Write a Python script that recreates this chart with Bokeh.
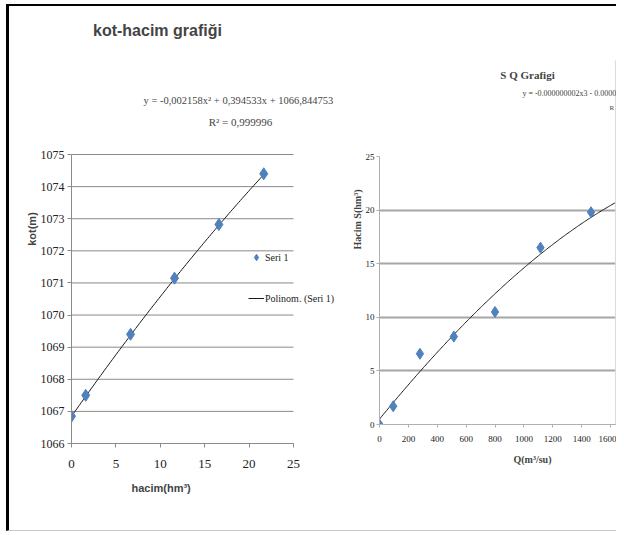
from bokeh.plotting import figure
from bokeh.models import FixedTicker, Label, Legend, LegendItem, Range1d, Title
from bokeh.layouts import row
from bokeh.embed import file_html
from bokeh.resources import INLINE
import numpy as np

# ---- left chart: kot-hacim ----
hacim = [0.0, 1.6, 6.65, 11.6, 16.6, 21.65]
kot = [1066.85, 1067.5, 1069.4, 1071.15, 1072.82, 1074.4]
kot_coef = [-0.002158, 0.394533, 1066.844753]
kot_ticks = [1066, 1067, 1068, 1069, 1070, 1071, 1072, 1073, 1074, 1075]
hacim_ticks = [0, 5, 10, 15, 20, 25]

# ---- right chart: S-Q ----
Q = [0, 95, 280, 515, 800, 1115, 1465]
S = [0.0, 1.7, 6.6, 8.2, 10.5, 16.5, 19.8]
S_trend_coef = [-2.5e-10, -2.1e-6, 0.01646, 0.5]
Q_ticks = [0, 200, 400, 600, 800, 1000, 1200, 1400, 1600]
S_ticks = [0, 5, 10, 15, 20, 25]

SERIF = "Liberation Serif"
SANS = "Liberation Sans"
BLUE = "#4f81bd"

# ================= left figure =================
p1 = figure(frame_width=272, frame_height=429, x_range=Range1d(0, 30.63), y_range=Range1d(1066, 1079.36),
            min_border_left=62, min_border_right=2, min_border_top=8, min_border_bottom=87,
            output_backend="svg", toolbar_location=None)
p1.outline_line_color = None
p1.grid.visible = False
for ax in (p1.xaxis[0], p1.yaxis[0]):
    ax.axis_line_color = "#8a8a8a"
    ax.major_tick_line_color = "#8a8a8a"
    ax.minor_tick_line_color = None
    ax.major_tick_in = 0
    ax.major_tick_out = 4
    ax.major_label_text_font = SERIF
    ax.major_label_text_color = "#222222"
p1.xaxis.major_label_text_font_size = "13px"
p1.yaxis.major_label_text_font_size = "12px"
p1.xaxis.ticker = FixedTicker(ticks=hacim_ticks)
p1.yaxis.ticker = FixedTicker(ticks=kot_ticks)
p1.xaxis.bounds = (hacim_ticks[0], hacim_ticks[-1])
p1.yaxis.bounds = (kot_ticks[0], kot_ticks[-1])
p1.xaxis.major_label_standoff = 12
p1.yaxis.major_label_standoff = 3
p1.yaxis.axis_label = "kot(m)"
p1.yaxis.axis_label_text_font = SANS
p1.yaxis.axis_label_text_font_style = "bold"
p1.yaxis.axis_label_text_font_size = "11px"
p1.yaxis.axis_label_standoff = 0

p1.add_layout(Title(text="hacim(hm³)", align="left", offset=60, standoff=18,
                    text_font=SANS, text_font_style="bold", text_font_size="11px"), "below")

# horizontal gridlines limited to the axis span
p1.segment(x0=hacim_ticks[0], x1=hacim_ticks[-1], y0=kot_ticks, y1=kot_ticks,
           line_color="#8a8a8a", line_width=1)

xs = np.linspace(0, max(hacim), 100)
trend1 = p1.line(xs, np.polyval(kot_coef, xs), line_color="#1a1a1a", line_width=1)
pts1 = p1.scatter(hacim, kot, marker="diamond", size=12, fill_color=BLUE, line_color=BLUE)

leg = Legend(items=[LegendItem(label="Seri 1", renderers=[pts1]),
                    LegendItem(label="Polinom. (Seri 1)", renderers=[trend1])],
             location=(177, 135), background_fill_alpha=0, border_line_color=None,
             padding=0, margin=0, spacing=21, glyph_width=16, glyph_height=20,
             label_height=20, label_standoff=1, label_text_font=SERIF,
             label_text_font_size="10px", label_text_color="#222222")
p1.add_layout(leg)

p1.add_layout(Label(x=9.68, y=1078.86, text="kot-hacim grafiği", text_font=SANS,
                    text_font_style="bold", text_font_size="16px", text_align="center",
                    text_baseline="middle"))
p1.add_layout(Label(x=18.8, y=1076.68, text="y = -0,002158x² + 0,394533x + 1066,844753",
                    text_font=SERIF, text_font_size="10.5px", text_align="center",
                    text_baseline="middle"))
p1.add_layout(Label(x=19.03, y=1076.0, text="R² = 0,999996", text_font=SERIF,
                    text_font_size="11px", text_align="center", text_baseline="middle"))

# ================= right figure =================
p2 = figure(frame_width=237, frame_height=410, x_range=Range1d(0, 1641.5), y_range=Range1d(0, 38.25),
            min_border_left=34, min_border_right=0, min_border_top=8, min_border_bottom=87,
            output_backend="svg", toolbar_location=None)
p2.outline_line_color = None
p2.xgrid.visible = False
p2.ygrid.ticker = FixedTicker(ticks=S_ticks[1:-1])
p2.ygrid.grid_line_color = "#a6a6a6"
p2.ygrid.grid_line_width = 2
for ax in (p2.xaxis[0], p2.yaxis[0]):
    ax.axis_line_color = "#b0b0b0"
    ax.major_tick_line_color = "#b0b0b0"
    ax.minor_tick_line_color = None
    ax.major_tick_in = 0
    ax.major_tick_out = 3
    ax.major_label_text_font = SERIF
    ax.major_label_text_font_size = "9px"
    ax.major_label_text_color = "#222222"
p2.xaxis.ticker = FixedTicker(ticks=Q_ticks)
p2.yaxis.ticker = FixedTicker(ticks=S_ticks)
p2.yaxis.bounds = (S_ticks[0], S_ticks[-1])
p2.xaxis.major_label_standoff = 8
p2.yaxis.major_label_standoff = 2
p2.yaxis.axis_label = "Hacim S(hm³)"
p2.yaxis.axis_label_text_font = SERIF
p2.yaxis.axis_label_text_font_style = "bold"
p2.yaxis.axis_label_text_font_size = "10px"
p2.yaxis.axis_label_standoff = 0

p2.add_layout(Title(text="Q(m³/su)", align="left", offset=134, standoff=14,
                    text_font=SERIF, text_font_style="bold", text_font_size="10px"), "below")

qs = np.linspace(0, 1634, 200)
p2.line(qs, np.polyval(S_trend_coef, qs), line_color="#1a1a1a", line_width=1)
p2.scatter(Q, S, marker="diamond", size=11, fill_color=BLUE, line_color=BLUE)
p2.segment(x0=1634, x1=1634, y0=0, y1=33.96, line_color="#d9d9d9", line_width=1)

p2.add_layout(Label(x=1025, y=32.6, text="S Q Grafigi", text_font=SERIF, text_font_style="bold",
                    text_font_size="11px", text_align="center", text_baseline="middle"))
p2.add_layout(Label(x=990, y=30.88, text="y = -0.000000002x3 - 0.0000", text_font=SERIF,
                    text_font_size="8px", text_align="left", text_baseline="middle"))
p2.add_layout(Label(x=1593, y=29.57, text="R", text_font=SERIF,
                    text_font_size="7px", text_align="left", text_baseline="middle"))

layout = row(p1, p2, margin=(4, 0, 0, 6),
             styles={"border-left": "3px solid black", "border-top": "2px solid black",
                     "border-bottom": "1px solid #c8c8c8"})

open("out.html", "w").write(file_html(layout, INLINE))
